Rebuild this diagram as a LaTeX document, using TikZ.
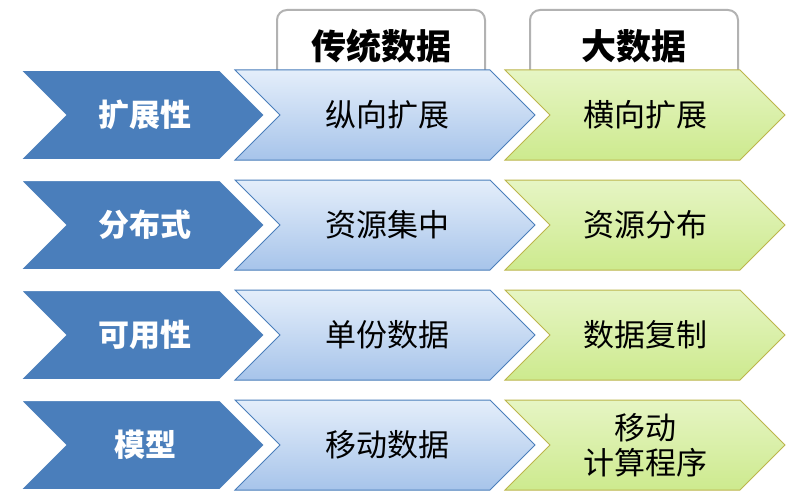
\documentclass[tikz,border=0pt]{standalone}
\usepackage{fontspec}
\setmainfont{Noto Sans CJK SC}
\usepackage{xcolor}
\definecolor{darkblue}{HTML}{4A7EBB}
\definecolor{lightblue}{HTML}{C9DDF6}
\definecolor{midblue}{HTML}{A7C4EA}
\definecolor{lightgreen}{HTML}{E6F5C4}
\definecolor{midgreen}{HTML}{CDEA8E}

\newcommand{\chev}[6]{% x0, x1, ytop, ybot, fill opts, draw col
  \path[#5] (#1,#3) -- (#2,#3) -- ({#2+45},{(#3+#4)/2}) -- (#2,#4) -- (#1,#4) -- ({#1+45},{(#3+#4)/2}) -- cycle;
}

\begin{document}
\begin{tikzpicture}[x=1pt,y=-1pt,
    txt/.style={font=\fontsize{31}{35}\selectfont, align=center},
    head/.style={font=\fontsize{35}{38}\selectfont\bfseries},
    lefttxt/.style={txt, text=white, font=\fontsize{31}{35}\selectfont\bfseries}]
  \useasboundingbox (0,0) rectangle (791,500);

  % headers
  \draw[gray!60, line width=2pt, rounded corners=10pt, fill=white] (277,72) -- (277,10) -- (485,10) -- (485,72);
  \draw[gray!60, line width=2pt, rounded corners=10pt, fill=white] (530,72) -- (530,10) -- (738,10) -- (738,72);
  \node[head] (h1) at (381,46) {传统数据};
  \node[head] (h2) at (634,46) {大数据};

  % rows
  \foreach \yt/\a/\b/\c [count=\i] in {70/扩展性/纵向扩展/横向扩展,
                                  180/分布式/资源集中/资源分布,
                                  290/可用性/单份数据/数据复制,
                                  400/模型/移动数据/{移动\\计算程序}} {
    \pgfmathsetmacro\yb{\yt+90}
    \pgfmathsetmacro\ym{\yt+45}
    \chev{505}{740}{\yt}{\yb}{draw=olive!60, line width=1pt, top color=lightgreen, bottom color=midgreen}{}
    \chev{235}{490}{\yt}{\yb}{draw=darkblue, line width=1pt, top color=lightblue!50, bottom color=midblue}{}
    \chev{20}{220}{\yt}{\yb}{draw=white, line width=2pt, fill=darkblue}{}
    \node[lefttxt] (l\i) at (145,\ym) {\a};
    \node[txt] (m\i) at (387,\ym) {\b};
    \node[txt] (r\i) at (645,\ym) {\c};
  }
\end{tikzpicture}
\end{document}
